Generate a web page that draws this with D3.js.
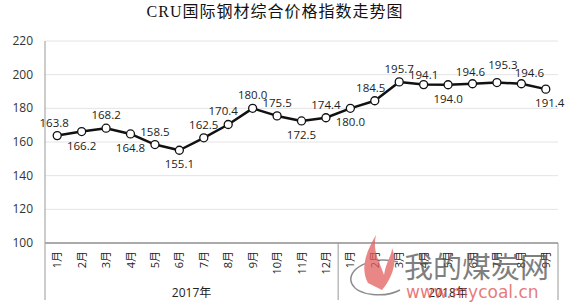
<!DOCTYPE html>
<html>
<head>
<meta charset="utf-8">
<script src="https://cdn.jsdelivr.net/npm/d3@7"></script>
<style>
  body { margin: 0; background: #fff; }
  svg { display: block; }
</style>
</head>
<body>
<svg id="chart" width="579" height="305"></svg>
<script>
const months = ["1月","2月","3月","4月","5月","6月","7月","8月","9月","10月","11月","12月",
                "1月","2月","3月","4月","5月","6月","7月","8月","9月"];
const values = [163.8,166.2,168.2,164.8,158.5,155.1,162.5,170.4,180.0,175.5,172.5,174.4,
                180.0,184.5,195.7,194.1,194.0,194.6,195.3,194.6,191.4];
// label above (true) or below (false) the point
const labelAbove = [true,false,true,false,true,false,true,true,true,true,false,true,
                    false,true,true,true,false,true,true,true,false];
const years = [{name: "2017年", count: 12}, {name: "2018年", count: 9}];
const yTicks = [100,120,140,160,180,200,220];

const svg = d3.select("#chart");
const margin = {left: 45, right: 21, top: 41, bottom: 62};
const W = 579, H = 305;
const x = d3.scaleBand().domain(d3.range(values.length)).range([margin.left, W - margin.right]);
const y = d3.scaleLinear().domain([100, 220]).range([H - margin.bottom, margin.top]);

// small nudges for crowded labels, index -> [dx, dy]
const nudge = {0: [-3, 0], 7: [-5, 0], 13: [-4, 0], 15: [0, 3], 17: [-2, 1], 18: [6, -5], 19: [8, 2], 20: [4, 0]};

// title
svg.append("text")
    .attr("x", 275).attr("y", 17)
    .attr("text-anchor", "middle")
    .style("font-family", "'Liberation Serif', 'Noto Sans CJK SC', serif")
    .style("font-size", "16px")
    .style("letter-spacing", "1px")
    .attr("fill", "#111")
    .text("CRU国际钢材综合价格指数走势图");

// gridlines
svg.append("g").selectAll("line")
    .data(yTicks.filter(d => d > 100))
    .enter().append("line")
    .attr("x1", margin.left).attr("x2", W - margin.right)
    .attr("y1", d => y(d)).attr("y2", d => y(d))
    .attr("stroke", "#e4e4e4").attr("stroke-width", 1);

// y tick labels
svg.append("g").selectAll("text")
    .data(yTicks)
    .enter().append("text")
    .attr("x", 33).attr("y", d => y(d) + 4)
    .attr("text-anchor", "end")
    .style("font-family", "'Open Sans', sans-serif")
    .style("font-size", "12px")
    .attr("fill", "#333")
    .text(d => d);

// axis lines
const axisBottom = 300;
svg.append("line")
    .attr("x1", margin.left).attr("x2", margin.left)
    .attr("y1", margin.top).attr("y2", axisBottom)
    .attr("stroke", "#999").attr("stroke-width", 1);
svg.append("line")
    .attr("x1", margin.left).attr("x2", W - margin.right)
    .attr("y1", y(100)).attr("y2", y(100))
    .attr("stroke", "#aaa").attr("stroke-width", 2);

// year group dividers
let start = 0;
years.forEach(yr => {
    const x0 = x(start);
    const x1 = x(start + yr.count - 1) + x.bandwidth();
    svg.append("line")
        .attr("x1", x1).attr("x2", x1)
        .attr("y1", y(100)).attr("y2", axisBottom)
        .attr("stroke", "#999").attr("stroke-width", 1);
    svg.append("text")
        .attr("x", (x0 + x1) / 2).attr("y", 297)
        .attr("text-anchor", "middle")
        .style("font-family", "'Open Sans', 'Noto Sans CJK SC', sans-serif")
        .style("font-size", "12px")
        .attr("fill", "#222")
        .text(yr.name);
    start += yr.count;
});

// month labels (rotated)
svg.append("g").selectAll("text")
    .data(months)
    .enter().append("text")
    .attr("transform", (d, i) => `translate(${x(i) + x.bandwidth() / 2 + 4},251) rotate(-90)`)
    .attr("text-anchor", "end")
    .style("font-family", "'Open Sans', 'Noto Sans CJK SC', sans-serif")
    .style("font-size", "11px")
    .attr("fill", "#222")
    .text(d => d);

// line
const cx = i => x(i) + x.bandwidth() / 2;
const line = d3.line().x((d, i) => cx(i)).y(d => y(d));
svg.append("path")
    .datum(values)
    .attr("d", line)
    .attr("fill", "none")
    .attr("stroke", "#111")
    .attr("stroke-width", 2.5)
    .attr("stroke-linejoin", "round");

svg.append("g").selectAll("circle")
    .data(values)
    .enter().append("circle")
    .attr("cx", (d, i) => cx(i)).attr("cy", d => y(d))
    .attr("r", 4)
    .attr("fill", "#fff")
    .attr("stroke", "#111")
    .attr("stroke-width", 1.3);

// data labels
svg.append("g").selectAll("text")
    .data(values)
    .enter().append("text")
    .attr("x", (d, i) => cx(i) + (nudge[i] ? nudge[i][0] : 0))
    .attr("y", (d, i) => (labelAbove[i] ? y(d) - 9 : y(d) + 18) + (nudge[i] ? nudge[i][1] : 0))
    .attr("text-anchor", "middle")
    .style("font-family", "'Open Sans', sans-serif")
    .style("font-size", "11.5px")
    .attr("fill", "#222")
    .text(d => d.toFixed(1));

// watermark
const wm = svg.append("g").attr("opacity", 0.75);
wm.append("path")
    .attr("d", "M398,262 C370,255 345,270 352,284 C358,296 385,298 400,290")
    .attr("fill", "none").attr("stroke", "#666").attr("stroke-width", 1.5);
wm.append("path")
    .attr("d", "M368,283 C360,268 366,252 376,235 C372,252 380,262 384,275 C386,262 392,255 392,248 C398,262 392,278 382,290 Z")
    .attr("fill", "#e26060");
wm.append("text")
    .attr("x", 404).attr("y", 278)
    .style("font-family", "'Noto Sans CJK SC', sans-serif")
    .style("font-size", "29px")
    .attr("fill", "#555")
    .text("我的煤炭网");
wm.append("text")
    .attr("x", 406).attr("y", 298)
    .style("font-family", "'DejaVu Sans', sans-serif")
    .style("font-size", "17px")
    .attr("fill", "#e05050")
    .text("www.mycoal.cn");
</script>
</body>
</html>
